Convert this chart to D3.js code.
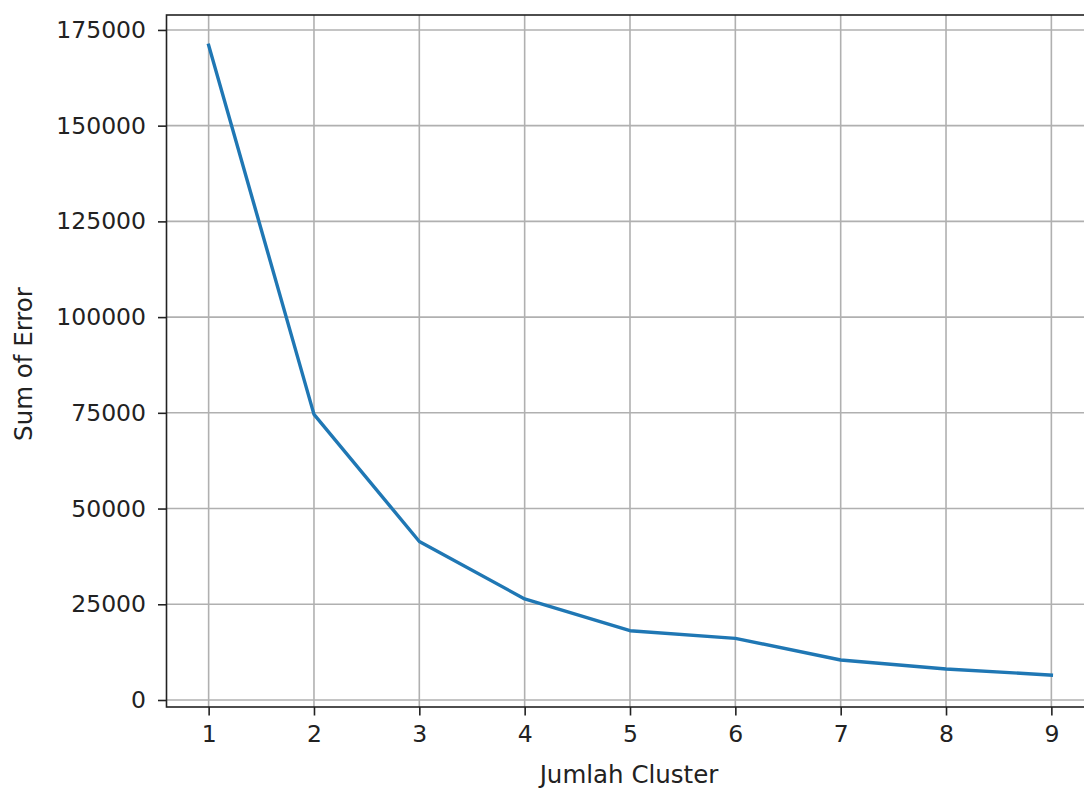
<!DOCTYPE html>
<html>
<head>
<meta charset="utf-8">
<script src="https://cdn.jsdelivr.net/npm/d3@7"></script>
<style>
  body { margin: 0; background: #fff; }
  text { font-family: "DejaVu Sans", sans-serif; fill: #222; }
</style>
</head>
<body>
<div id="chart"></div>
<script>
// elbow curve
const clusters = [1, 2, 3, 4, 5, 6, 7, 8, 9];
const sumError = [171000, 74600, 41400, 26400, 18100, 16100, 10450, 8100, 6500];
const yTicks = [0, 25000, 50000, 75000, 100000, 125000, 150000, 175000];

const width = 1084, height = 788;
const plot = { left: 166.5, right: 1093.5, top: 15, bottom: 707 };

const svg = d3.select("#chart").append("svg")
    .attr("width", width)
    .attr("height", height);

const x = d3.scaleLinear().domain([0.6, 9.4]).range([plot.left, plot.right]);
const y = d3.scaleLinear().domain([-1830, 178900]).range([plot.bottom, plot.top]);

// grid
svg.append("g")
    .selectAll("line")
    .data(clusters)
    .enter()
    .append("line")
    .attr("x1", d => x(d)).attr("x2", d => x(d))
    .attr("y1", plot.top).attr("y2", plot.bottom)
    .attr("stroke", "#b0b0b0")
    .attr("stroke-width", 1.6);
svg.append("g")
    .selectAll("line")
    .data(yTicks)
    .enter()
    .append("line")
    .attr("x1", plot.left).attr("x2", plot.right)
    .attr("y1", d => y(d)).attr("y2", d => y(d))
    .attr("stroke", "#b0b0b0")
    .attr("stroke-width", 1.6);

// the curve
const line = d3.line()
    .x((d, i) => x(clusters[i]))
    .y(d => y(d));
svg.append("path")
    .datum(sumError)
    .attr("d", line)
    .attr("fill", "none")
    .attr("stroke", "#1f77b4")
    .attr("stroke-width", 3.4)
    .attr("stroke-linejoin", "round")
    .attr("stroke-linecap", "square");

// axes
const xAxis = d3.axisBottom(x).tickValues(clusters).tickFormat(d3.format("d"))
    .tickSizeInner(8.5).tickSizeOuter(0).tickPadding(10);
const yAxis = d3.axisLeft(y).tickValues(yTicks).tickFormat(d3.format("d"))
    .tickSizeInner(8.5).tickSizeOuter(0).tickPadding(12);

const gx = svg.append("g").attr("transform", `translate(0,${plot.bottom})`).call(xAxis);
const gy = svg.append("g").attr("transform", `translate(${plot.left},0)`).call(yAxis);
[gx, gy].forEach(g => {
    g.select(".domain").remove();
    g.selectAll(".tick line").attr("stroke", "#222").attr("stroke-width", 1.6);
    g.selectAll(".tick text").style("font-size", "23.5px").attr("fill", "#222");
});

// frame
svg.append("rect")
    .attr("x", plot.left).attr("y", plot.top)
    .attr("width", plot.right - plot.left).attr("height", plot.bottom - plot.top)
    .attr("fill", "none")
    .attr("stroke", "#222")
    .attr("stroke-width", 1.6);

svg.append("text")
    .attr("x", (plot.left + plot.right) / 2 - 1)
    .attr("y", 783)
    .attr("text-anchor", "middle")
    .style("font-size", "24.5px")
    .text("Jumlah Cluster");

svg.append("text")
    .attr("transform", `translate(32,${(plot.top + plot.bottom) / 2 + 3}) rotate(-90)`)
    .attr("text-anchor", "middle")
    .style("font-size", "24.5px")
    .text("Sum of Error");
</script>
</body>
</html>
